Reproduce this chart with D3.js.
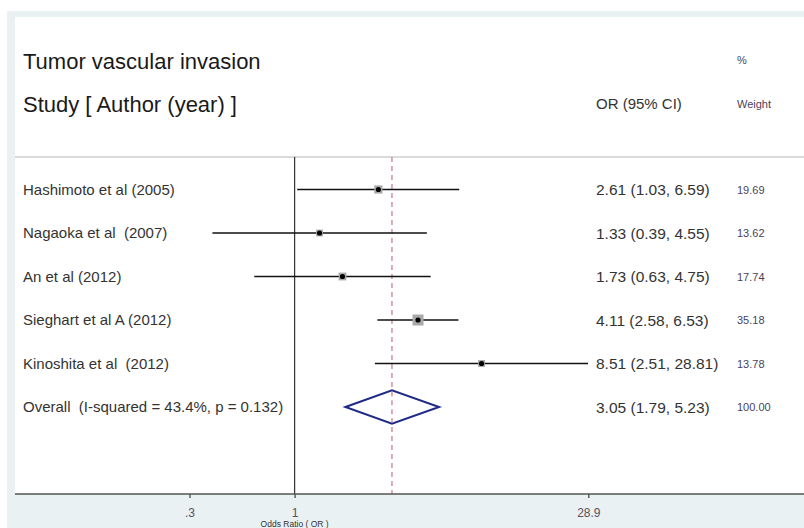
<!DOCTYPE html>
<html>
<head>
<meta charset="utf-8">
<script src="https://cdn.jsdelivr.net/npm/d3@7"></script>
<style>
  html, body { margin: 0; padding: 0; background: #ffffff; }
  svg { display: block; }
  text { font-family: "Liberation Sans", Arial, sans-serif; white-space: pre; }
</style>
</head>
<body>
<svg id="chart" width="804" height="528"></svg>
<script>
// Forest plot: tumor vascular invasion, odds ratios with 95% CI
const studies = [
  "Hashimoto et al (2005)",
  "Nagaoka et al  (2007)",
  "An et al (2012)",
  "Sieghart et al A (2012)",
  "Kinoshita et al  (2012)"
];
const orValues = [2.61, 1.33, 1.73, 4.11, 8.51];
const ciLower  = [1.03, 0.39, 0.63, 2.58, 2.51];
const ciUpper  = [6.59, 4.55, 4.75, 6.53, 28.81];
const weights  = [19.69, 13.62, 17.74, 35.18, 13.78];

const overallLabel = "Overall  (I-squared = 43.4%, p = 0.132)";
const overallOR = 3.05;
const overallLower = 1.79;
const overallUpper = 5.23;
const overallWeight = 100.00;

const tickValues = [0.3, 1, 28.9];
const tickLabels = [".3", "1", "28.9"];

const W = 804, H = 528;
const svg = d3.select("#chart");

// Frame: pale outer band, white plotting panel
svg.append("rect").attr("x", 7).attr("y", 11).attr("width", W - 7).attr("height", H - 11)
  .attr("fill", "#e9f1f3");
svg.append("rect").attr("x", 15).attr("y", 17).attr("width", W - 15).attr("height", 494 - 17)
  .attr("fill", "#ffffff");

const x = d3.scaleLog().domain([0.3, 28.9]).range([189.5, 588.3]);
const rowY = d3.scaleLinear().domain([0, studies.length]).range([189.5, 407]);

const plotTop = 157, plotBottom = 494;

// Header separator
svg.append("line").attr("x1", 15).attr("x2", W).attr("y1", plotTop).attr("y2", plotTop)
  .attr("stroke", "#dadada").attr("stroke-width", 2);

// Headers
const hdr = svg.append("g").attr("fill", "#1a1a1a");
hdr.append("text").attr("x", 23).attr("y", 69).attr("font-size", 22).text("Tumor vascular invasion");
hdr.append("text").attr("x", 23).attr("y", 112).attr("font-size", 22).text("Study [ Author (year) ]");
hdr.append("text").attr("x", 596).attr("y", 109).attr("font-size", 15).attr("fill", "#333").text("OR (95% CI)");
hdr.append("text").attr("x", 737).attr("y", 64).attr("font-size", 11).attr("fill", "#4a3f5a").text("%");
hdr.append("text").attr("x", 737).attr("y", 108).attr("font-size", 11).attr("fill", "#4a3f5a").text("Weight");

// Null line at OR = 1
svg.append("line").attr("x1", x(1)).attr("x2", x(1)).attr("y1", plotTop).attr("y2", plotBottom)
  .attr("stroke", "#333").attr("stroke-width", 1.2);

// Pooled estimate reference line
svg.append("line").attr("x1", x(overallOR)).attr("x2", x(overallOR)).attr("y1", plotTop).attr("y2", plotBottom)
  .attr("stroke", "#c77585").attr("stroke-width", 1.2).attr("stroke-dasharray", "5,4");

// Study rows
const side = d3.scaleSqrt().domain([0, 35.18]).range([0, 11]);
const rows = svg.append("g").selectAll("g").data(studies).join("g");

rows.append("line")
  .attr("x1", (d, i) => x(ciLower[i])).attr("x2", (d, i) => x(ciUpper[i]))
  .attr("y1", (d, i) => rowY(i)).attr("y2", (d, i) => rowY(i))
  .attr("stroke", "#111").attr("stroke-width", 1.6);

rows.append("rect")
  .attr("x", (d, i) => x(orValues[i]) - side(weights[i]) / 2)
  .attr("y", (d, i) => rowY(i) - side(weights[i]) / 2)
  .attr("width", (d, i) => side(weights[i]))
  .attr("height", (d, i) => side(weights[i]))
  .attr("fill", "#a9a9a9");

rows.append("circle")
  .attr("cx", (d, i) => x(orValues[i])).attr("cy", (d, i) => rowY(i)).attr("r", 2.6)
  .attr("fill", "#000");

rows.append("text")
  .attr("x", 23).attr("y", (d, i) => rowY(i) + 5)
  .attr("font-size", 15).attr("fill", "#333").text(d => d);

rows.append("text")
  .attr("x", 596).attr("y", (d, i) => rowY(i) + 5.5)
  .attr("font-size", 15.5).attr("fill", "#333")
  .text((d, i) => `${orValues[i].toFixed(2)} (${ciLower[i].toFixed(2)}, ${ciUpper[i].toFixed(2)})`);

rows.append("text")
  .attr("x", 737).attr("y", (d, i) => rowY(i) + 4)
  .attr("font-size", 11).attr("fill", "#4a3f5a")
  .text((d, i) => weights[i].toFixed(2));

// Overall diamond
const oy = rowY(studies.length);
const dh = 16.8;
svg.append("path")
  .attr("d", `M${x(overallLower)},${oy} L${x(overallOR)},${oy - dh} L${x(overallUpper)},${oy} L${x(overallOR)},${oy + dh} Z`)
  .attr("fill", "#fff").attr("stroke", "#1f2a86").attr("stroke-width", 2);

svg.append("text").attr("x", 23).attr("y", oy + 5).attr("font-size", 15).attr("fill", "#333").text(overallLabel);
svg.append("text").attr("x", 596).attr("y", oy + 5.5).attr("font-size", 15.5).attr("fill", "#333")
  .text(`${overallOR.toFixed(2)} (${overallLower.toFixed(2)}, ${overallUpper.toFixed(2)})`);
svg.append("text").attr("x", 737).attr("y", oy + 4).attr("font-size", 11).attr("fill", "#4a3f5a")
  .text(overallWeight.toFixed(2));

// Dashed line continues through the diamond interior
svg.append("line").attr("x1", x(overallOR)).attr("x2", x(overallOR)).attr("y1", oy - dh + 1).attr("y2", oy + dh - 1)
  .attr("stroke", "#c77585").attr("stroke-width", 1.2).attr("stroke-dasharray", "5,4");

// Axis
const axis = d3.axisBottom(x).tickValues(tickValues).tickFormat((d, i) => tickLabels[i]).tickSize(4).tickPadding(10);
const ag = svg.append("g").attr("transform", `translate(0,${plotBottom})`).call(axis);
ag.select(".domain").remove();
ag.selectAll(".tick line").attr("stroke", "#555").attr("stroke-width", 1.4);
ag.selectAll(".tick text").attr("font-size", 12).attr("fill", "#5a5060")
  .style("font-family", "'Liberation Sans', Arial, sans-serif");
svg.append("line").attr("x1", 15).attr("x2", W).attr("y1", plotBottom).attr("y2", plotBottom)
  .attr("stroke", "#555").attr("stroke-width", 1.6);

svg.append("text").attr("x", x(1)).attr("y", 527).attr("text-anchor", "middle")
  .attr("font-size", 8.5).attr("fill", "#333").text("Odds Ratio ( OR )");
</script>
</body>
</html>
